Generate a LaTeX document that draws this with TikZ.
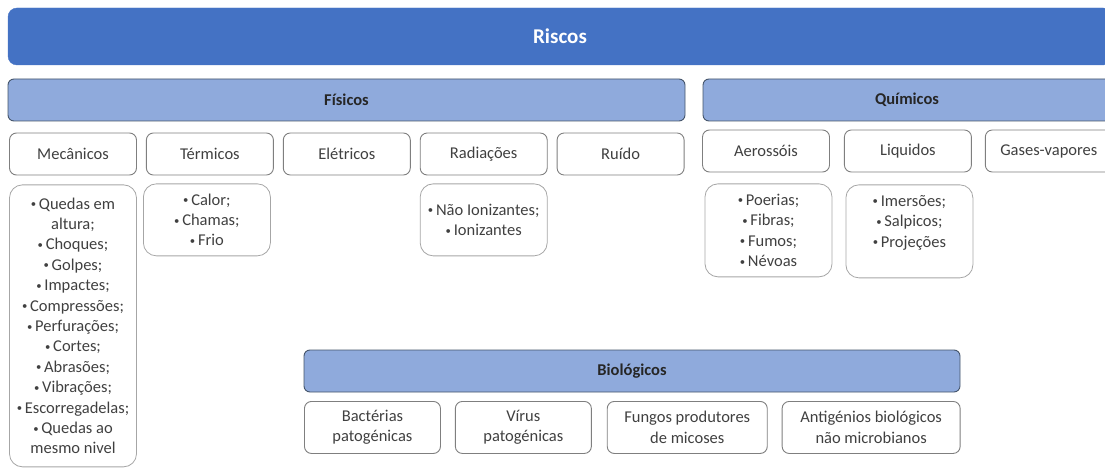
\documentclass[tikz,border=0pt]{standalone}
\usepackage{fontspec}
\setmainfont{Carlito}
\usepackage{tikz}
\usetikzlibrary{positioning}
\definecolor{riscoblue}{HTML}{4472C4}
\definecolor{barblue}{HTML}{8FAADC}
\definecolor{barline}{HTML}{44546A}
\definecolor{boxline}{HTML}{7F7F7F}
\definecolor{listline}{HTML}{A6A6A6}
\definecolor{txtgray}{HTML}{404040}
\tikzset{
	main bar/.style={rectangle,rounded corners=9pt,fill=riscoblue,draw=riscoblue,text=white,
		font=\fontsize{21}{25}\selectfont\bfseries,inner sep=0pt,minimum height=57pt},
	group bar/.style={rectangle,rounded corners=6pt,fill=barblue,draw=barline,line width=0.9pt,
		text=black!85,font=\fontsize{16.5}{20}\selectfont\bfseries,inner sep=0pt,minimum height=42pt},
	cat node/.style={rectangle,rounded corners=7pt,draw=boxline,line width=0.9pt,fill=white,
		text=txtgray,font=\fontsize{16.5}{20.4}\selectfont,align=center,inner sep=0pt,
		minimum width=127pt,minimum height=42pt},
	list node/.style={rectangle,rounded corners=13pt,draw=listline,line width=0.8pt,
		text=txtgray,font=\fontsize{16.5}{20.4}\selectfont,align=center,inner sep=0pt,
		minimum width=127pt},
	bio node/.style={cat node,minimum height=52pt}
}
\newcommand{\bul}{\raisebox{1.5pt}{\scalebox{0.65}{\textbullet}}\,}

\begin{document}
\begin{tikzpicture}[x=1pt,y=-1pt]
	\useasboundingbox (0,0) rectangle (1105,468);
	\clip (0,0) rectangle (1105,468);
	\node [main bar,minimum width=1104pt] (riscos) at (560,36.5) {Riscos};
	\node [group bar,minimum width=677pt] (fisicos) at (346.5,100) {Físicos};
	\node [group bar,minimum width=408pt] (quimicos) at (907,100) {Químicos};
	% fisicos
	\node [cat node] (mec) at (73,154) {Mecânicos};
	\node [cat node,right=9pt of mec] (ter) {Térmicos};
	\node [cat node,right=9pt of ter] (ele) {Elétricos};
	\node [cat node,right=9pt of ele] (rad) {Radiações};
	\node [cat node,right=9pt of rad] (rui) {Ruído};
	\node [list node,minimum height=282pt,below=9pt of mec] (mecl)
		{\bul Quedas em\\altura;\\\bul Choques;\\\bul Golpes;\\\bul Impactes;\\\bul Compressões;\\
		\bul Perfurações;\\\bul Cortes;\\\bul Abrasões;\\\bul Vibrações;\\\bul Escorregadelas;\\
		\bul Quedas ao\\mesmo nivel};
	\node [list node,minimum height=72pt,below=8pt of ter,xshift=-3pt] (terl)
		{\bul Calor;\\\bul Chamas;\\\bul Frio};
	\node [list node,minimum height=72pt,below=8pt of rad] (radl)
		{\bul Não Ionizantes;\\\bul Ionizantes};
	% quimicos
	\node [cat node] (aer) at (766,151) {Aerossóis};
	\node [cat node,right=14pt of aer] (liq) {Liquidos};
	\node [cat node,right=13pt of liq] (gas) {Gases-vapores};
	\node [list node,minimum height=93pt,below=11pt of aer,xshift=2.5pt] (aerl)
		{\bul Poerias;\\\bul Fibras;\\\bul Fumos;\\\bul Névoas};
	\node [list node,minimum height=93pt,below=12pt of liq,xshift=1.5pt] (liql)
		{\bul Imersões;\\\bul Salpicos;\\\bul Projeções\\~};
	% biologicos
	\node [group bar,minimum width=656pt] (bio) at (632,371) {Biológicos};
	\node [bio node,minimum width=136pt,anchor=north west] (bac) at (304,401) {Bactérias\\patogénicas};
	\node [bio node,minimum width=136pt,right=14pt of bac] (vir) {Vírus\\patogénicas};
	\node [bio node,minimum width=160pt,right=15pt of vir] (fun) {Fungos produtores\\de micoses};
	\node [bio node,minimum width=178pt,right=14pt of fun] (ant) {Antigénios biológicos\\não microbianos};
\end{tikzpicture}
\end{document}
